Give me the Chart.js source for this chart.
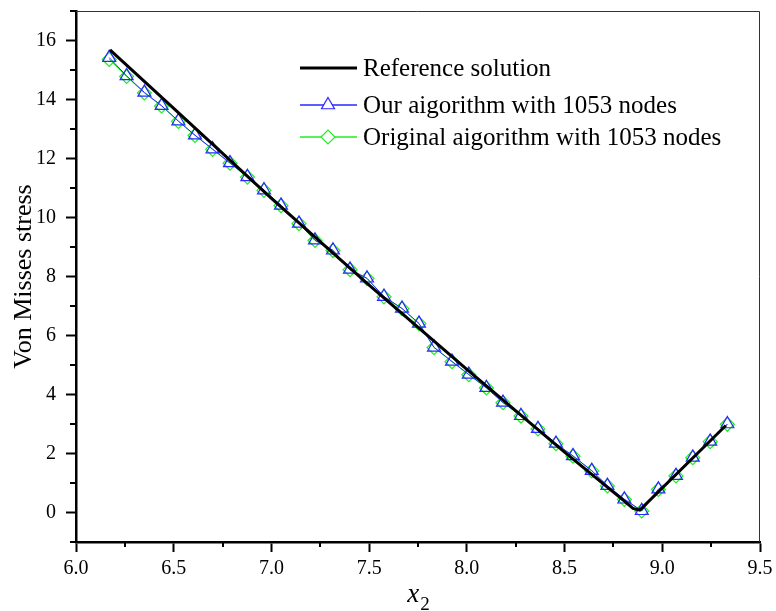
<!DOCTYPE html>
<html>
<head>
<meta charset="utf-8">
<script src="https://cdn.jsdelivr.net/npm/chart.js@4.4.1/dist/chart.umd.min.js"></script>
<style>
  html, body { margin: 0; padding: 0; background: #fff; }
  #wrap { width: 776px; height: 611px; }
</style>
</head>
<body>
<div id="wrap"><canvas id="chart" width="776" height="611"></canvas></div>
<script>
// node positions along x2 and the stress read at each node
const X_POINTS = [6.170, 6.259, 6.350, 6.438, 6.524, 6.609, 6.699, 6.788, 6.877, 6.962,
  7.049, 7.141, 7.223, 7.315, 7.402, 7.489, 7.576, 7.668, 7.755, 7.832,
  7.924, 8.010, 8.100, 8.185, 8.277, 8.364, 8.456, 8.543, 8.639, 8.719,
  8.806, 8.895, 8.980, 9.070, 9.156, 9.245, 9.333];
const OURS = [15.42, 14.80, 14.24, 13.79, 13.27, 12.79, 12.32, 11.85, 11.38, 10.93,
  10.41, 9.80, 9.23, 8.89, 8.24, 7.94, 7.32, 6.92, 6.41, 5.60,
  5.12, 4.68, 4.23, 3.73, 3.28, 2.84, 2.34, 1.92, 1.42, 0.91,
  0.45, 0.06, 0.79, 1.25, 1.87, 2.41, 3.00];
const ORIGINAL = [15.36, 14.78, 14.22, 13.78, 13.26, 12.78, 12.31, 11.84, 11.37, 10.92,
  10.40, 9.79, 9.22, 8.88, 8.23, 7.93, 7.31, 6.91, 6.40, 5.59,
  5.11, 4.67, 4.22, 3.72, 3.27, 2.83, 2.33, 1.91, 1.41, 0.90,
  0.44, 0.05, 0.78, 1.24, 1.86, 2.40, 2.99];

// reference solution
const REF_X = [6.174, 6.5, 7.0, 7.5, 8.0, 8.5, 8.80, 8.85, 8.885, 9.325];
const REF_Y = [15.68, 13.70, 10.65, 7.71, 4.85, 2.05, 0.42, 0.14, 0.08, 2.95];

const LABELS = ["Reference solution", "Our aigorithm with 1053 nodes", "Original aigorithm with 1053 nodes"];

const X_TICKS = [6.0, 6.5, 7.0, 7.5, 8.0, 8.5, 9.0, 9.5];
const X_MINOR = [6.25, 6.75, 7.25, 7.75, 8.25, 8.75, 9.25];
const Y_TICKS = [0, 2, 4, 6, 8, 10, 12, 14, 16];
const Y_MINOR = [-1, 1, 3, 5, 7, 9, 11, 13, 15, 17];

const SERIF = "'Liberation Serif', 'Times New Roman', serif";
const BLUE = "#2828ff";
const GREEN = "#20ee20";

const toPoints = (xs, ys) => xs.map((x, i) => ({ x, y: ys[i] }));

// minor ticks, top/right frame, legend and x title
const extras = {
  id: "extras",
  afterDraw(chart) {
    const { ctx, chartArea: a, scales: { x, y } } = chart;
    ctx.save();

    ctx.strokeStyle = "#333";
    ctx.lineWidth = 1;
    ctx.beginPath();
    ctx.moveTo(a.left, a.top + 0.5);
    ctx.lineTo(a.right - 0.5, a.top + 0.5);
    ctx.lineTo(a.right - 0.5, a.bottom);
    ctx.stroke();

    ctx.strokeStyle = "#000";
    ctx.lineWidth = 2;
    ctx.beginPath();
    X_MINOR.forEach((v) => {
      const px = Math.round(x.getPixelForValue(v));
      ctx.moveTo(px, a.bottom);
      ctx.lineTo(px, a.bottom + 5);
    });
    Y_MINOR.forEach((v) => {
      const py = Math.round(y.getPixelForValue(v));
      ctx.moveTo(a.left, py);
      ctx.lineTo(a.left - 6, py);
    });
    ctx.stroke();

    // legend
    const rows = [68, 105, 137];
    const ds = chart.data.datasets;
    rows.forEach((ry, i) => {
      const d = ds[i];
      ctx.strokeStyle = d.borderColor;
      ctx.lineWidth = i === 0 ? 3 : 1.5;
      ctx.beginPath();
      ctx.moveTo(300, ry);
      ctx.lineTo(357, ry);
      ctx.stroke();
      if (d.pointStyle) {
        ctx.fillStyle = "#fff";
        ctx.strokeStyle = d.pointBorderColor;
        ctx.lineWidth = 1.2;
        Chart.helpers.drawPoint(ctx, { pointStyle: d.pointStyle, radius: d.pointRadius, borderWidth: 1.2, rotation: 0 }, 328, ry);
      }
      ctx.fillStyle = "#000";
      ctx.font = `25px ${SERIF}`;
      ctx.textAlign = "left";
      ctx.textBaseline = "middle";
      ctx.fillText(LABELS[i], 363, ry + 1);
    });

    // x axis title: italic x with subscript 2
    const cx = (a.left + a.right) / 2;
    ctx.font = `italic 27px ${SERIF}`;
    const wx = ctx.measureText("x").width;
    ctx.font = `19px ${SERIF}`;
    const w2 = ctx.measureText("2").width;
    const start = cx - (wx + w2) / 2;
    ctx.textBaseline = "alphabetic";
    ctx.font = `italic 27px ${SERIF}`;
    ctx.fillText("x", start, 602);
    ctx.font = `19px ${SERIF}`;
    ctx.fillText("2", start + wx + 1, 610);

    ctx.restore();
  },
};

new Chart(document.getElementById("chart"), {
  type: "line",
  data: {
    datasets: [
      {
        label: LABELS[0],
        data: toPoints(REF_X, REF_Y),
        borderColor: "#000",
        borderWidth: 3,
        pointRadius: 0,
        tension: 0,
        order: 0,
      },
      {
        label: LABELS[1],
        data: toPoints(X_POINTS, OURS),
        borderColor: BLUE,
        borderWidth: 1,
        pointStyle: "triangle",
        pointRadius: 7.5,
        pointBorderWidth: 1.2,
        pointBorderColor: BLUE,
        pointBackgroundColor: "rgba(0,0,0,0)",
        order: 1,
      },
      {
        label: LABELS[2],
        data: toPoints(X_POINTS, ORIGINAL),
        borderColor: GREEN,
        borderWidth: 1,
        pointStyle: "rectRot",
        pointRadius: 7,
        pointBorderWidth: 1.2,
        pointBorderColor: GREEN,
        pointBackgroundColor: "rgba(0,0,0,0)",
        order: 2,
      },
    ],
  },
  options: {
    responsive: false,
    animation: false,
    events: [],
    layout: { padding: { top: 11, right: 16, left: 0, bottom: 0 } },
    plugins: { legend: { display: false }, tooltip: { enabled: false } },
    scales: {
      x: {
        type: "linear",
        min: 6,
        max: 9.5,
        afterBuildTicks: (s) => { s.ticks = X_TICKS.map((v) => ({ value: v })); },
        afterFit: (s) => { s.height = 69; s.paddingLeft = 0; s.paddingRight = 0; },
        ticks: {
          callback: (v) => Number(v).toFixed(1),
          color: "#000",
          font: { family: SERIF, size: 20 },
          padding: 5,
          maxRotation: 0,
          autoSkip: false,
        },
        grid: { drawOnChartArea: false, tickLength: 10, tickWidth: 2, tickColor: "#000" },
        border: { color: "#000", width: 2.5 },
      },
      y: {
        min: -1,
        max: 17,
        afterBuildTicks: (s) => { s.ticks = Y_TICKS.map((v) => ({ value: v })); },
        afterFit: (s) => { s.width = 76; s.paddingTop = 0; s.paddingBottom = 0; },
        ticks: {
          color: "#000",
          font: { family: SERIF, size: 20 },
          padding: 10,
        },
        grid: { drawOnChartArea: false, tickLength: 10, tickWidth: 2, tickColor: "#000" },
        border: { color: "#000", width: 2.5 },
        title: {
          display: true,
          text: "Von Misses stress",
          color: "#000",
          font: { family: SERIF, size: 26 },
          padding: { top: 9, bottom: 0 },
        },
      },
    },
  },
  plugins: [extras],
});
</script>
</body>
</html>
